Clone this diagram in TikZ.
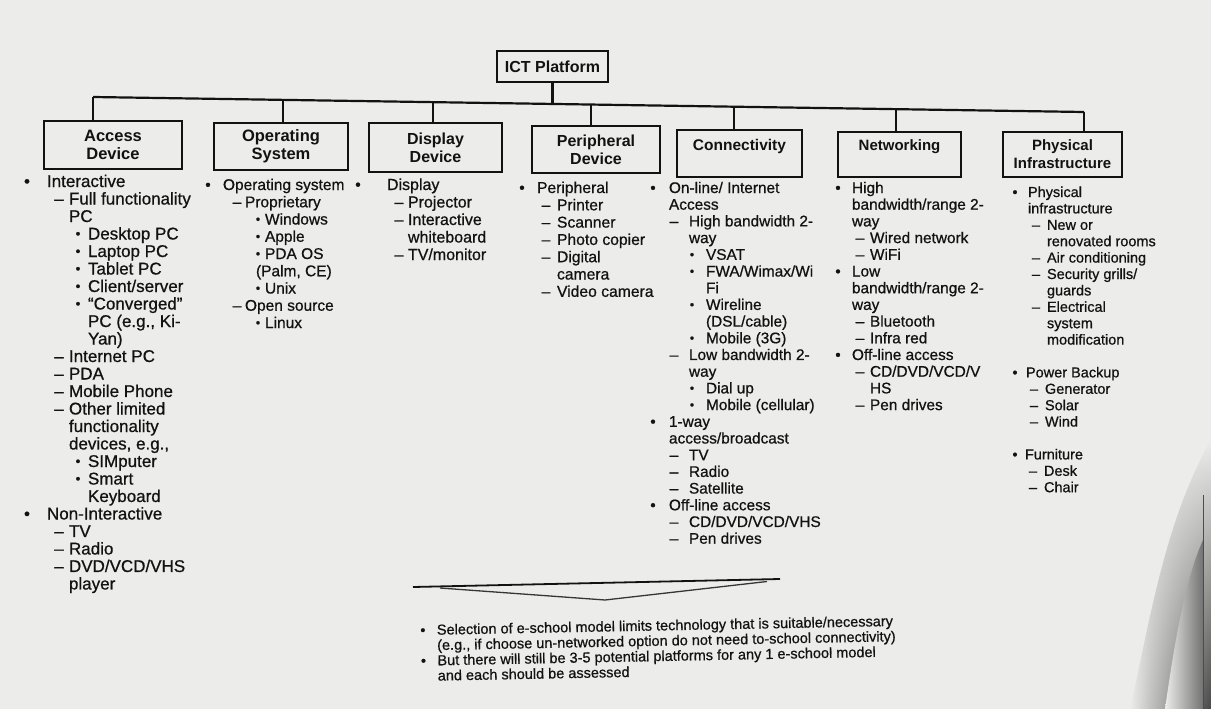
\documentclass[tikz,border=0pt]{standalone}
\usepackage{fontspec}
\setmainfont{Liberation Sans}
\newfontfamily\lf{Liberation Sans}[FakeBold=0.7]
\usetikzlibrary{fadings}
\definecolor{bg}{RGB}{236,236,234}
\definecolor{ink}{RGB}{18,18,18}
\newcommand\mk[4]{\leavevmode\rlap{\hspace*{#1pt}\makebox[0pt]{#2}}\hspace*{#3pt}#4\par}
\newcommand\cont[2]{\mk{0}{}{#1}{#2}}
\newcommand\bA{\textbullet}
\newcommand\bC{\raisebox{0.07em}{\scalebox{0.8}{\textbullet}}}
\newcommand\dA{–}
\newcommand\colfont[2]{\lf\fontsize{#1}{#2}\selectfont}
\tikzset{
  hbox/.style={draw=ink, line width=1.6pt, fill=bg, align=center, inner sep=0pt, text=ink},
  wire/.style={draw=ink, line width=2.2pt},
  listcol/.style={anchor=base west, inner sep=0pt, outer sep=0pt, text=ink},
}
\begin{document}
\begin{tikzpicture}[x=1pt,y=-1pt]
\useasboundingbox (0,0) rectangle (1211,709);
\fill[bg] (0,0) rectangle (1211,709);
% page shadow, bottom right
\shade[left color=bg, right color=black!72, path fading=north]
  (1130,709) .. controls (1150,620) and (1165,520) .. (1211,440) -- (1211,709) -- cycle;
\shade[left color=bg, right color=black!55]
  (1165,709) .. controls (1175,640) and (1185,580) .. (1203,540) -- (1203,709) -- cycle;
\draw[black!70, line width=1pt] (1203,495) -- (1203,709);

% header boxes
\node[hbox, minimum width=111pt, minimum height=31pt, font=\fontsize{16}{18}\selectfont\bfseries] (ict) at (552.5,66.5) {ICT Platform};
\node[hbox, minimum width=138pt, minimum height=48pt, font=\fontsize{16.5}{18}\selectfont\bfseries] (acc) at (113,145) {Access\\Device};
\node[hbox, minimum width=134pt, minimum height=47pt, font=\fontsize{16.5}{18}\selectfont\bfseries] (os) at (281,146.5) {Operating\\System};
\node[hbox, minimum width=133pt, minimum height=49pt, font=\fontsize{16}{18}\selectfont\bfseries] (disp) at (435.5,147.5) {Display\\Device};
\node[hbox, minimum width=128pt, minimum height=47pt, font=\fontsize{16}{18}\selectfont\bfseries] (peri) at (596,149.5) {Peripheral\\Device};
\node[hbox, minimum width=125pt, minimum height=47pt, font=\fontsize{15.5}{18}\selectfont\bfseries] (conn) at (739.5,153.5) {Connectivity\\\mbox{}};
\node[hbox, minimum width=123pt, minimum height=45pt, font=\fontsize{15}{18}\selectfont\bfseries] (netw) at (899.5,154.5) {Networking\\\mbox{}};
\node[hbox, minimum width=119pt, minimum height=45pt, font=\fontsize{15}{18}\selectfont\bfseries] (phys) at (1062.5,154.5) {Physical\\Infrastructure};

% bus coordinates
\coordinate (b1) at (93,97);
\coordinate (b2) at (283,99.9);
\coordinate (b3) at (433,102.1);
\coordinate (bI) at (552.5,103.9);
\coordinate (b4) at (591,104.5);
\coordinate (b5) at (734,106.7);
\coordinate (b6) at (896,109.2);
\coordinate (b7) at (1084,112);
\draw[wire] (b1) -- (b7);
\draw[wire] (ict.south) -- (bI);
\draw[wire] (b1) -- (b1 |- acc.north);
\draw[wire] (b2) -- (b2 |- os.north);
\draw[wire] (b3) -- (b3 |- disp.north);
\draw[wire] (b4) -- (b4 |- peri.north);
\draw[wire] (b5) -- (b5 |- conn.north);
\draw[wire] (b6) -- (b6 |- netw.north);
\draw[wire] (b7) -- (b7 |- phys.north);

% column 1
\node[listcol] (c1) at (27,187) {\parbox[t]{200pt}{\colfont{17}{17.5}%
\mk{0}{\bA}{20}{Interactive}
\mk{32}{\dA}{42}{Full functionality}
\cont{42}{PC}
\mk{51}{\bC}{61}{Desktop PC}
\mk{51}{\bC}{61}{Laptop PC}
\mk{51}{\bC}{61}{Tablet PC}
\mk{51}{\bC}{61}{Client/server}
\mk{51}{\bC}{61}{“Converged”}
\cont{61}{PC (e.g., Ki-}
\cont{61}{Yan)}
\mk{32}{\dA}{42}{Internet PC}
\mk{32}{\dA}{42}{PDA}
\mk{32}{\dA}{42}{Mobile Phone}
\mk{32}{\dA}{42}{Other limited}
\cont{42}{functionality}
\cont{42}{devices, e.g.,}
\mk{51}{\bC}{61}{SIMputer}
\mk{51}{\bC}{61}{Smart}
\cont{61}{Keyboard}
\mk{0}{\bA}{20}{Non-Interactive}
\mk{32}{\dA}{42}{TV}
\mk{32}{\dA}{42}{Radio}
\mk{32}{\dA}{42}{DVD/VCD/VHS}
\cont{42}{player}}};

% column 2
\node[listcol] (c2) at (208,190) {\parbox[t]{200pt}{\colfont{15.5}{17.25}%
\mk{0}{\bA}{15}{Operating system}
\mk{29}{\dA}{37}{Proprietary}
\mk{50}{\bC}{57}{Windows}
\mk{50}{\bC}{57}{Apple}
\mk{50}{\bC}{57}{PDA OS}
\cont{48}{(Palm, CE)}
\mk{50}{\bC}{57}{Unix}
\mk{29}{\dA}{37}{Open source}
\mk{50}{\bC}{57}{Linux}}};

% column 3
\node[listcol] (c3) at (358,190) {\parbox[t]{200pt}{\colfont{16}{17.5}%
\mk{0}{\bA}{29}{Display}
\mk{41}{\dA}{50}{Projector}
\mk{41}{\dA}{50}{Interactive}
\cont{50}{whiteboard}
\mk{41}{\dA}{50}{TV/monitor}}};

% column 4
\node[listcol] (c4) at (522,193) {\parbox[t]{200pt}{\colfont{15.7}{17.3}%
\mk{0}{\bA}{15}{Peripheral}
\mk{24}{\dA}{35}{Printer}
\mk{24}{\dA}{35}{Scanner}
\mk{24}{\dA}{35}{Photo copier}
\mk{24}{\dA}{35}{Digital}
\cont{35}{camera}
\mk{24}{\dA}{35}{Video camera}}};

% column 5
\node[listcol] (c5) at (653,193) {\parbox[t]{200pt}{\colfont{15.4}{16.7}%
\mk{0}{\bA}{16}{On-line/ Internet}
\cont{16}{Access}
\mk{21}{\dA}{36}{High bandwidth 2-}
\cont{36}{way}
\mk{39}{\bC}{53}{VSAT}
\mk{39}{\bC}{53}{FWA/Wimax/Wi}
\cont{53}{Fi}
\mk{39}{\bC}{53}{Wireline}
\cont{53}{(DSL/cable)}
\mk{39}{\bC}{53}{Mobile (3G)}
\mk{21}{\dA}{36}{Low bandwidth 2-}
\cont{36}{way}
\mk{39}{\bC}{53}{Dial up}
\mk{39}{\bC}{53}{Mobile (cellular)}
\mk{0}{\bA}{16}{1-way}
\cont{16}{access/broadcast}
\mk{21}{\dA}{36}{TV}
\mk{21}{\dA}{36}{Radio}
\mk{21}{\dA}{36}{Satellite}
\mk{0}{\bA}{16}{Off-line access}
\mk{21}{\dA}{36}{CD/DVD/VCD/VHS}
\mk{21}{\dA}{36}{Pen drives}}};

% column 6
\node[listcol] (c6) at (838,193) {\parbox[t]{200pt}{\colfont{15.4}{16.7}%
\mk{0}{\bA}{14}{High}
\cont{14}{bandwidth/range 2-}
\cont{14}{way}
\mk{22}{\dA}{32}{Wired network}
\mk{22}{\dA}{32}{WiFi}
\mk{0}{\bA}{14}{Low}
\cont{14}{bandwidth/range 2-}
\cont{14}{way}
\mk{22}{\dA}{32}{Bluetooth}
\mk{22}{\dA}{32}{Infra red}
\mk{0}{\bA}{14}{Off-line access}
\mk{22}{\dA}{32}{CD/DVD/VCD/V}
\cont{32}{HS}
\mk{22}{\dA}{32}{Pen drives}}};

% column 7
\node[listcol] (c7) at (1015,197) {\parbox[t]{200pt}{\colfont{14.5}{16.4}%
\mk{0}{\bA}{13}{Physical}
\cont{13}{infrastructure}
\mk{21}{\dA}{32}{New or}
\cont{32}{renovated rooms}
\mk{21}{\dA}{32}{Air conditioning}
\mk{21}{\dA}{32}{Security grills/}
\cont{32}{guards}
\mk{21}{\dA}{32}{Electrical}
\cont{32}{system}
\cont{32}{modification}
\mbox{}\par
\mk{0}{\bA}{11}{Power Backup}
\mk{19}{\dA}{30}{Generator}
\mk{19}{\dA}{30}{Solar}
\mk{19}{\dA}{30}{Wind}
\mbox{}\par
\mk{0}{\bA}{10}{Furniture}
\mk{18}{\dA}{29}{Desk}
\mk{18}{\dA}{29}{Chair}}};

% chevron
\coordinate (vL) at (413,587);
\coordinate (vR) at (780,579);
\coordinate (wL) at (440,588);
\coordinate (wA) at (605,600);
\coordinate (wR) at (767,581.5);
\draw[ink, line width=1.8pt] (vL) -- (vR);
\draw[ink!85, line width=1.3pt] (wL) -- (wA) -- (wR);

% bottom note
\node[listcol, rotate=1.1] (note) at (423,635) {\parbox[t]{520pt}{\colfont{14.5}{15.3}%
\mk{0}{\bA}{14}{Selection of e-school model limits technology that is suitable/necessary}
\cont{14}{(e.g., if choose un-networked option do not need to-school connectivity)}
\mk{0}{\bA}{14}{But there will still be 3-5 potential platforms for any 1 e-school model}
\cont{14}{and each should be assessed}}};
\end{tikzpicture}
\end{document}
